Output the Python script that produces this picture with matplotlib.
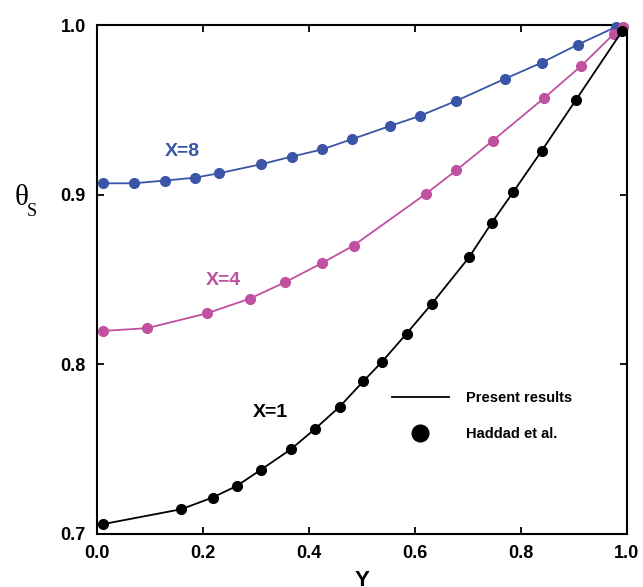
import matplotlib
matplotlib.use("Agg")
import matplotlib.pyplot as plt
from matplotlib.lines import Line2D

plt.rcParams['font.family'] = ['Liberation Sans', 'DejaVu Sans']
plt.rcParams['font.weight'] = 'bold'

# X = 8 (blue)
y8 = [0.011, 0.069, 0.128, 0.184, 0.230, 0.309, 0.367, 0.425, 0.482, 0.553,
      0.609, 0.677, 0.769, 0.839, 0.907, 0.980]
t8 = [0.9067, 0.9067, 0.9083, 0.9100, 0.9126, 0.9179, 0.9224, 0.9267, 0.9328, 0.9405,
      0.9464, 0.9552, 0.9682, 0.9778, 0.9884, 0.9990]

# X = 4 (magenta)
y4 = [0.011, 0.094, 0.207, 0.288, 0.355, 0.4245, 0.484, 0.621, 0.678, 0.7465,
      0.843, 0.914, 0.975, 0.993]
t4 = [0.8197, 0.8213, 0.8300, 0.8387, 0.8484, 0.8597, 0.8700, 0.9006, 0.9144, 0.9318,
      0.9568, 0.9760, 0.9947, 0.9990]

# X = 1 (black)
y1 = [0.011, 0.159, 0.218, 0.2635, 0.310, 0.366, 0.412, 0.458, 0.5025, 0.538,
      0.584, 0.6315, 0.702, 0.745, 0.785, 0.839, 0.904, 0.991]
t1 = [0.7058, 0.7146, 0.7215, 0.7283, 0.7380, 0.7500, 0.7621, 0.7751, 0.7900, 0.8016,
      0.8181, 0.8356, 0.8631, 0.8835, 0.9014, 0.9258, 0.9560, 0.9965]

xticks = [0.0, 0.2, 0.4, 0.6, 0.8, 1.0]
yticks = [0.7, 0.8, 0.9, 1.0]

blue = '#3a55a8'
magenta = '#c050a0'

fig = plt.figure(figsize=(6.43, 5.87), dpi=100)
ax = fig.add_axes([0.1509, 0.0903, 0.8242, 0.8671])

for xs, ys, c in [(y8, t8, blue), (y4, t4, magenta), (y1, t1, 'black')]:
    ax.plot(xs, ys, '-', color=c, lw=1.3, marker='o', ms=7, mec=c, mfc=c,
            clip_on=False, zorder=3)

ax.set_xlim(0, 1)
ax.set_ylim(0.7, 1.0)
ax.set_xticks(xticks)
ax.set_yticks(yticks)
ax.set_xticklabels([f'{v:.1f}' for v in xticks], fontsize=13, fontweight='bold')
ax.set_yticklabels([f'{v:.1f}' for v in yticks], fontsize=13, fontweight='bold')
ax.tick_params(direction='in', length=5, width=1.3, top=True, right=True, pad=8)
for s in ax.spines.values():
    s.set_linewidth(1.5)

ax.set_xlabel('Y', fontsize=16, fontweight='bold', labelpad=6)
fig.text(0.034, 0.663, 'θ', fontsize=21, family='Liberation Serif', fontweight='normal',
         ha='center', va='center')
fig.text(0.050, 0.640, 'S', fontsize=13, family='Liberation Serif', fontweight='normal',
         ha='center', va='center')

ax.text(0.162, 0.9255, 'X=8', color=blue, fontsize=14, fontweight='bold', ha='center', va='center')
ax.text(0.238, 0.8495, 'X=4', color=magenta, fontsize=14, fontweight='bold', ha='center', va='center')
ax.text(0.327, 0.7718, 'X=1', color='black', fontsize=14, fontweight='bold', ha='center', va='center')

handles = [Line2D([], [], color='black', lw=1.3),
           Line2D([], [], color='black', lw=0, marker='o', ms=12)]
ax.legend(handles, ['Present results', 'Haddad et al.'], frameon=False,
          fontsize=10.5, handlelength=3.9, handletextpad=1.2, labelspacing=1.5,
          loc='center left', bbox_to_anchor=(0.556, 0.232), borderaxespad=0, borderpad=0)

fig.savefig('out.png', dpi=100)
